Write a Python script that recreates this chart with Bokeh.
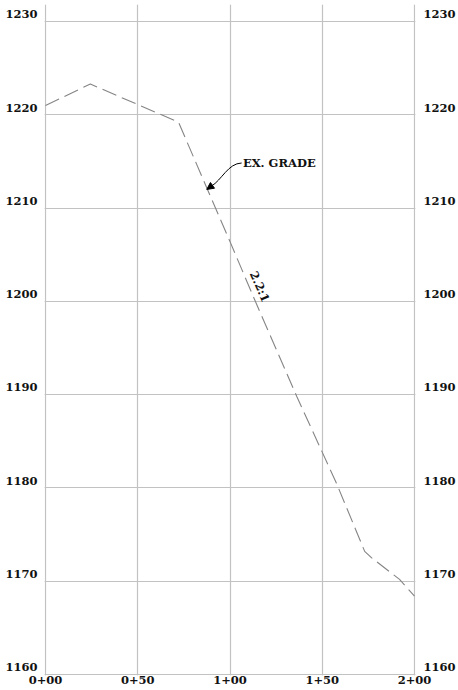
import numpy as np
from bokeh.plotting import figure
from bokeh.models import (Range1d, LinearAxis, FixedTicker, Grid, Arrow, NormalHead,
                          CustomJSTickFormatter)
from bokeh.core.properties import value
from bokeh.embed import file_html
from bokeh.resources import INLINE

# ---- data ----
stations = [0.0, 24.3, 72.1, 100.0, 114.6, 136.2, 157.7, 173.0, 176.8, 191.9, 200.0]
elevations = [1221.0, 1223.3, 1219.2, 1206.4, 1199.6, 1189.8, 1180.5, 1173.2, 1172.5, 1170.2, 1168.4]

x_ticks = [0, 50, 100, 150, 200]
x_tick_labels = ["0+00", "0+50", "1+00", "1+50", "2+00"]
y_ticks = [1160, 1170, 1180, 1190, 1200, 1210, 1220, 1230]
y_tick_labels = ["1160", "1170", "1180", "1190", "1200", "1210", "1220", "1230"]

grade_label = "EX. GRADE"
slope_label = "2.2:1"
slope_label_station = 111.0

FONT = "DejaVu Serif"
FSIZE = "11.5px"
GRID = "#c2c2c2"

p = figure(width=458, height=690,
           x_range=Range1d(-0.54, 200.54), y_range=Range1d(1159.893, 1231.822),
           output_backend="svg", toolbar_location=None,
           x_axis_location=None, y_axis_location=None,
           min_border_left=44, min_border_right=42, min_border_top=4, min_border_bottom=15)
p.outline_line_color = None
p.background_fill_color = "white"
p.border_fill_color = "white"

# grids
p.add_layout(Grid(dimension=0, ticker=FixedTicker(ticks=x_ticks),
                  grid_line_color=GRID, grid_line_width=1.2))
p.add_layout(Grid(dimension=1, ticker=FixedTicker(ticks=y_ticks),
                  grid_line_color=GRID, grid_line_width=1.2))

label_shift = 0.78
y_label_ticks = [v + label_shift for v in y_ticks]

def fmt(tv, tl):
    return CustomJSTickFormatter(args=dict(tvals=tv, tlabels=tl), code="""
        for (let i = 0; i < tvals.length; i++) {
            if (Math.abs(tvals[i] - tick) < 1e-6) return tlabels[i];
        }
        return '';
    """)

def style(ax, standoff):
    ax.axis_line_color = None
    ax.major_tick_line_color = None
    ax.minor_tick_line_color = None
    ax.major_tick_in = 0
    ax.major_tick_out = 0
    ax.minor_tick_in = 0
    ax.minor_tick_out = 0
    ax.major_label_standoff = standoff
    ax.major_label_text_font = FONT
    ax.major_label_text_font_size = FSIZE
    ax.major_label_text_font_style = "bold"
    ax.major_label_text_color = "#111111"

xaxis = LinearAxis(ticker=FixedTicker(ticks=x_ticks), formatter=fmt(x_ticks, x_tick_labels))
style(xaxis, 0)
p.add_layout(xaxis, "below")

laxis = LinearAxis(ticker=FixedTicker(ticks=y_label_ticks), formatter=fmt(y_label_ticks, y_tick_labels))
style(laxis, 7)
p.add_layout(laxis, "left")

raxis = LinearAxis(ticker=FixedTicker(ticks=y_label_ticks), formatter=fmt(y_label_ticks, y_tick_labels))
style(raxis, 8)
p.add_layout(raxis, "right")

# existing grade profile
p.line(stations, elevations, line_color="#858585", line_width=1.1, line_dash="15 6")

# slope label on the line
se = float(np.interp(slope_label_station, stations, elevations))
p.text(x=[slope_label_station], y=[se], text=[slope_label], angle=-1.155,
       x_offset=3, text_align="center", text_baseline="bottom",
       text_font=value(FONT), text_font_size=FSIZE, text_font_style="bold", text_color="#111111")

# "EX. GRADE" callout
p.text(x=[107.0], y=[1214.8], text=[grade_label], text_align="left", text_baseline="middle",
       text_font=value(FONT), text_font_size=FSIZE, text_font_style="bold", text_color="#111111")
p.bezier(x0=[106.3], y0=[1214.83], x1=[89.9], y1=[1212.35],
         cx0=[99.0], cy0=[1214.8], cx1=[95.5], cy1=[1213.0],
         line_color="black", line_width=1)
p.add_layout(Arrow(end=NormalHead(size=7, fill_color="black", line_color="black"),
                   x_start=89.9, y_start=1212.35, x_end=87.4, y_end=1212.0,
                   line_color="black", line_width=1))

open("out.html", "w").write(file_html(p, INLINE))
